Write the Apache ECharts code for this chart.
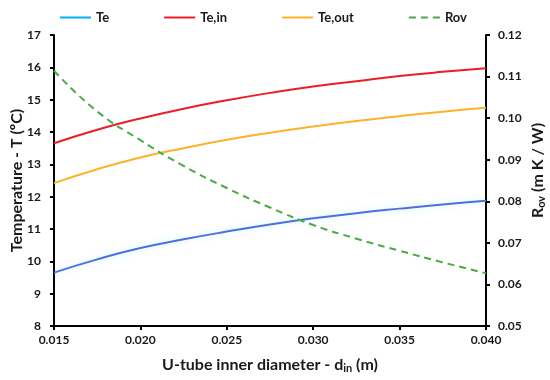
<!DOCTYPE html>
<html>
<head>
<meta charset="utf-8">
<script src="https://cdn.jsdelivr.net/npm/echarts@6/dist/echarts.min.js"></script>
<style>html,body{margin:0;padding:0;background:#fff}#c{width:550px;height:380px}</style>
</head>
<body>
<div id="c"></div>
<script>
const diameters = [0.015, 0.0175, 0.020, 0.0225, 0.025, 0.0275, 0.030, 0.0325, 0.035, 0.0375, 0.040];
const te    = [9.65, 10.06, 10.41, 10.68, 10.92, 11.14, 11.33, 11.49, 11.63, 11.76, 11.87];
const teIn  = [13.65, 14.07, 14.42, 14.72, 14.98, 15.21, 15.41, 15.57, 15.73, 15.86, 15.97];
const teOut = [12.42, 12.85, 13.21, 13.50, 13.76, 13.98, 14.17, 14.34, 14.49, 14.63, 14.75];
const rov   = [0.1114, 0.1016, 0.0947, 0.0885, 0.0832, 0.0785, 0.0743, 0.0710, 0.0681, 0.0653, 0.0627];
const seriesNames = ['Te', 'Te,in', 'Te,out', 'Rov'];

const pairs = (ys) => diameters.map((x, i) => [x, ys[i]]);
const font = 'Lato, "Open Sans", sans-serif';
const chart = echarts.init(document.getElementById('c'), null, {renderer: 'canvas'});
const axisLine = {show: true, lineStyle: {color: '#000', width: 2}};
const tick = {show: true, length: 4, lineStyle: {color: '#000', width: 2}};
const lbl = {color: '#1a1a1a', fontFamily: font, fontWeight: 'bold', fontSize: 12};

chart.setOption({
  animation: false,
  backgroundColor: '#fff',
  grid: {left: 54, right: 64, top: 35, bottom: 54, containLabel: false, outerBoundsMode: 'none'},
  legend: {
    top: 6, left: 54, itemGap: 54, itemWidth: 31, itemHeight: 10,
    itemStyle: {opacity: 0},
    textStyle: {fontFamily: font, fontWeight: 'bold', fontSize: 13, color: '#1a1a1a'},
    data: [
      {name: seriesNames[0], lineStyle: {color: '#00B0F0', width: 2, shadowBlur: 0}},
      {name: seriesNames[1]},
      {name: seriesNames[2]},
      {name: seriesNames[3]}
    ]
  },
  xAxis: {
    type: 'value', min: 0.015, max: 0.040, interval: 0.005,
    axisLine, axisTick: tick, splitLine: {show: false},
    axisLabel: Object.assign({margin: 8, formatter: v => v.toFixed(3)}, lbl),
    name: '{a|U-tube inner diameter - d}{s|in}{a| (m)}',
    nameLocation: 'middle', nameGap: 29, nameMoveOverlap: false,
    nameTextStyle: {rich: {
      a: {fontFamily: font, fontWeight: 'bold', fontSize: 16, color: '#1a1a1a'},
      s: {fontFamily: font, fontWeight: 'bold', fontSize: 11, color: '#1a1a1a', verticalAlign: 'bottom', padding: [8, 0, 0, 0]}
    }}
  },
  yAxis: [{
    type: 'value', min: 8, max: 17, interval: 1, position: 'left',
    axisLine, axisTick: tick, splitLine: {show: false},
    axisLabel: Object.assign({margin: 13}, lbl),
    name: 'Temperature - T (ºC)', nameLocation: 'middle', nameGap: 29, nameMoveOverlap: false,
    nameTextStyle: {fontFamily: font, fontWeight: 'bold', fontSize: 16, color: '#1a1a1a'}
  }, {
    type: 'value', min: 0.05, max: 0.12, interval: 0.01, position: 'right',
    axisLine, axisTick: tick, splitLine: {show: false},
    axisLabel: Object.assign({margin: 12, formatter: v => v.toFixed(2)}, lbl),
    name: '{a|R}{s|ov}{a| (m K / W)}', nameLocation: 'middle', nameGap: 42, nameMoveOverlap: false,
    nameTextStyle: {padding: [0, 0, 0, 20], rich: {
      a: {fontFamily: font, fontWeight: 'bold', fontSize: 16, color: '#1a1a1a'},
      s: {fontFamily: font, fontWeight: 'bold', fontSize: 11, color: '#1a1a1a', verticalAlign: 'bottom', padding: [8, 0, 0, 0]}
    }}
  }],
  series: [
    {name: seriesNames[0], type: 'line', data: pairs(te), smooth: true, showSymbol: false, symbol: 'none',
     itemStyle: {color: '#00B0F0'},
     lineStyle: {color: '#4F6FE0', width: 2, shadowColor: 'rgba(0,220,255,0.25)', shadowBlur: 6}},
    {name: seriesNames[1], type: 'line', data: pairs(teIn), smooth: true, showSymbol: false, symbol: 'none',
     itemStyle: {color: '#EE1C25'}, lineStyle: {color: '#EE1C25', width: 2}},
    {name: seriesNames[2], type: 'line', data: pairs(teOut), smooth: true, showSymbol: false, symbol: 'none',
     itemStyle: {color: '#FDB22A'}, lineStyle: {color: '#FDB22A', width: 2}},
    {name: seriesNames[3], type: 'line', yAxisIndex: 1, data: pairs(rov), smooth: true, showSymbol: false, symbol: 'none',
     itemStyle: {color: '#4AAA44'}, lineStyle: {color: '#4AAA44', width: 2, type: [7, 5]}}
  ]
});
</script>
</body>
</html>
